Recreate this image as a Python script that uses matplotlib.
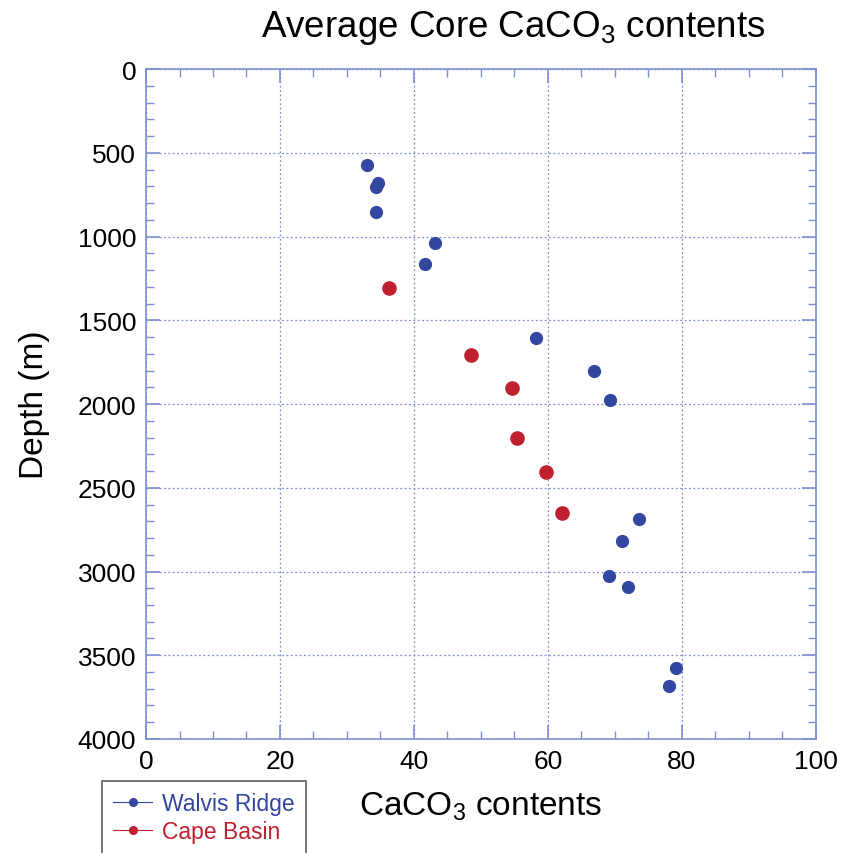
import matplotlib
matplotlib.use("Agg")
from matplotlib import pyplot as plt
from matplotlib.ticker import MultipleLocator

# Walvis Ridge cores
walvis_caco3 = [33.0, 34.6, 34.3, 34.3, 43.1, 41.6, 58.2, 66.9, 69.3, 73.7, 71.1, 69.1, 72.0, 79.2, 78.1]
walvis_depth = [573, 682, 706, 854, 1041, 1166, 1606, 1805, 1978, 2685, 2820, 3025, 3095, 3576, 3682]

# Cape Basin cores
cape_caco3 = [36.3, 48.5, 54.6, 55.4, 59.8, 62.2]
cape_depth = [1307, 1707, 1904, 2205, 2408, 2649]

blue = '#3346a0'
red = '#c01f2f'
axis_col = '#7f8fd4'

plt.rcParams['font.family'] = ['Liberation Sans', 'DejaVu Sans']
plt.rcParams['mathtext.fontset'] = 'custom'
plt.rcParams['mathtext.rm'] = 'Liberation Sans'

fig = plt.figure(figsize=(8.54, 8.54), dpi=100)
ax = fig.add_axes([0.171, 0.1335, 0.784, 0.7845])

ax.plot(walvis_caco3, walvis_depth, 'o', color=blue, markersize=8.5, label='Walvis Ridge', zorder=3)
ax.plot(cape_caco3, cape_depth, 'o', color=red, markersize=9.5, label='Cape Basin', zorder=3)

ax.set_xlim(0, 100)
ax.set_ylim(4000, 0)
ax.xaxis.set_major_locator(MultipleLocator(20))
ax.xaxis.set_minor_locator(MultipleLocator(5))
ax.yaxis.set_major_locator(MultipleLocator(500))
ax.yaxis.set_minor_locator(MultipleLocator(100))
ax.tick_params(which='both', direction='in', top=True, right=True, color=axis_col, labelsize=19, pad=7)
ax.tick_params(which='major', length=10, width=1.2)
ax.tick_params(which='minor', length=6, width=1.0)
for s in ax.spines.values():
    s.set_color(axis_col)
    s.set_linewidth(1.2)
ax.grid(True, which='major', color=axis_col, linestyle=(0, (1.5, 2)), linewidth=0.9)
ax.set_axisbelow(True)

ax.set_title('Average Core CaCO$_3$ contents', fontsize=26.5, pad=24, x=0.548)
ax.set_xlabel('CaCO$_3$ contents', fontsize=24, labelpad=12)
ax.set_ylabel('Depth (m)', fontsize=24, labelpad=20)

h1, = ax.plot([], [], '-o', color=blue, markersize=5.5, linewidth=0.8)
h2, = ax.plot([], [], '-o', color=red, markersize=5.5, linewidth=0.8)
leg = fig.legend([h1, h2], ['Walvis Ridge', 'Cape Basin'], loc='upper left',
                 bbox_to_anchor=(0.119, 0.0843), borderaxespad=0, fontsize=16.5, frameon=True,
                 fancybox=False, edgecolor='#333333', handlelength=1.7, handletextpad=0.45,
                 borderpad=0.5, labelspacing=0.2)
leg.get_frame().set_linewidth(1.2)
for txt, c in zip(leg.get_texts(), [blue, red]):
    txt.set_color(c)

fig.savefig('out.png', dpi=100)
